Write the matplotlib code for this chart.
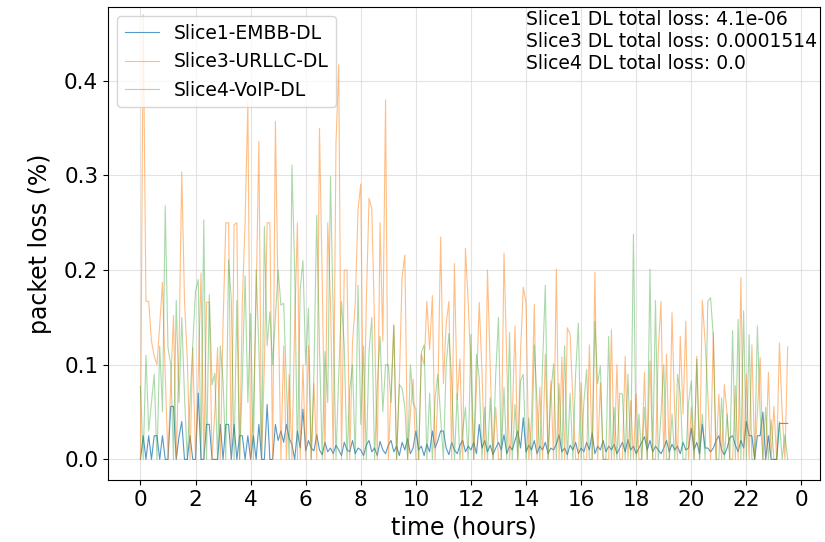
import numpy as np
import matplotlib

matplotlib.use("Agg")
import matplotlib.pyplot as plt

# time axis: one sample every 6 minutes, in hours since start
hours = np.arange(236) * 0.1

# packet loss (%) per slice
slice1_embb = [
    0.0, 0.025, 0.0, 0.025, 0.0, 0.025, 0.025, 0.0, 0.025, 0.0,
    0.0, 0.056, 0.056, 0.0, 0.024, 0.04, 0.0, 0.0, 0.025, 0.0,
    0.0, 0.07, 0.0, 0.0, 0.037, 0.037, 0.0, 0.0, 0.0, 0.037,
    0.0, 0.037, 0.037, 0.0, 0.037, 0.0, 0.025, 0.025, 0.0, 0.025,
    0.0, 0.025, 0.0, 0.037, 0.0, 0.0, 0.058, 0.0, 0.0, 0.037,
    0.02, 0.03, 0.018, 0.037, 0.022, 0.016, 0.0, 0.03, 0.012, 0.053,
    0.009, 0.02, 0.012, 0.009, 0.026, 0.01, 0.005, 0.018, 0.008, 0.012,
    0.006, 0.015, 0.01, 0.004, 0.018, 0.01, 0.008, 0.02, 0.006, 0.012,
    0.01, 0.004, 0.015, 0.02, 0.008, 0.012, 0.004, 0.019, 0.01, 0.006,
    0.015, 0.02, 0.008, 0.014, 0.004, 0.018, 0.01, 0.022, 0.006, 0.012,
    0.03, 0.01, 0.014, 0.004, 0.016, 0.008, 0.03, 0.012, 0.02, 0.03,
    0.03, 0.012, 0.005, 0.018, 0.01, 0.006, 0.015, 0.02, 0.008, 0.014,
    0.01, 0.018, 0.006, 0.037, 0.012, 0.02, 0.008, 0.015, 0.005, 0.012,
    0.018, 0.01, 0.026, 0.006, 0.014, 0.01, 0.02, 0.03, 0.012, 0.044,
    0.008, 0.015, 0.01, 0.02, 0.006, 0.014, 0.01, 0.018, 0.006, 0.012,
    0.01, 0.016, 0.026, 0.008, 0.012, 0.005, 0.015, 0.01, 0.018, 0.006,
    0.012, 0.008, 0.018, 0.01, 0.028, 0.006, 0.014, 0.01, 0.02, 0.008,
    0.014, 0.01, 0.016, 0.006, 0.012, 0.018, 0.008, 0.021, 0.01, 0.014,
    0.006, 0.012, 0.018, 0.024, 0.01, 0.02, 0.008, 0.014, 0.01, 0.006,
    0.012, 0.02, 0.008, 0.016, 0.01, 0.014, 0.006, 0.018, 0.01, 0.012,
    0.033, 0.01, 0.018, 0.006, 0.037, 0.012, 0.012, 0.008, 0.012, 0.02,
    0.025, 0.01, 0.005, 0.012, 0.023, 0.025, 0.015, 0.008, 0.02, 0.012,
    0.04, 0.025, 0.025, 0.0, 0.025, 0.025, 0.05, 0.0, 0.025, 0.0,
    0.0, 0.0, 0.038, 0.038, 0.038, 0.038,
]

slice3_urllc = [
    0.0, 0.47, 0.167, 0.167, 0.125, 0.109, 0.1, 0.142, 0.187, 0.09,
    0.0, 0.08, 0.152, 0.0, 0.114, 0.304, 0.167, 0.107, 0.0, 0.118,
    0.0, 0.09, 0.197, 0.0, 0.166, 0.166, 0.0, 0.05, 0.118, 0.0,
    0.143, 0.25, 0.25, 0.0, 0.248, 0.25, 0.0, 0.167, 0.25, 0.378,
    0.0, 0.05, 0.167, 0.336, 0.0, 0.1, 0.25, 0.25, 0.0, 0.357,
    0.166, 0.0, 0.12, 0.0, 0.09, 0.0, 0.143, 0.25, 0.0, 0.1,
    0.0, 0.12, 0.0, 0.08, 0.0, 0.35, 0.19, 0.0, 0.25, 0.167,
    0.0, 0.334, 0.417, 0.0, 0.2, 0.2, 0.0, 0.124, 0.165, 0.264,
    0.291, 0.0, 0.165, 0.276, 0.265, 0.142, 0.0, 0.25, 0.125, 0.38,
    0.0, 0.072, 0.142, 0.0, 0.082, 0.193, 0.216, 0.0, 0.048, 0.085,
    0.0, 0.0, 0.111, 0.1, 0.167, 0.116, 0.173, 0.0, 0.07, 0.235,
    0.08, 0.143, 0.167, 0.0, 0.207, 0.063, 0.106, 0.0, 0.223, 0.166,
    0.093, 0.0, 0.076, 0.166, 0.093, 0.0, 0.2, 0.097, 0.0, 0.055,
    0.0, 0.0, 0.218, 0.104, 0.0, 0.044, 0.141, 0.0, 0.113, 0.182,
    0.166, 0.0, 0.044, 0.164, 0.0, 0.076, 0.0, 0.111, 0.0, 0.083,
    0.0, 0.201, 0.0, 0.108, 0.0, 0.139, 0.132, 0.062, 0.0, 0.0,
    0.081, 0.0, 0.0, 0.121, 0.0, 0.198, 0.0, 0.081, 0.0, 0.0,
    0.0, 0.137, 0.0, 0.1, 0.0, 0.0, 0.109, 0.0, 0.062, 0.0,
    0.069, 0.0, 0.0, 0.092, 0.0, 0.104, 0.0, 0.0, 0.114, 0.167,
    0.0, 0.111, 0.0, 0.155, 0.048, 0.0, 0.13, 0.048, 0.146, 0.0,
    0.055, 0.0, 0.109, 0.0, 0.168, 0.125, 0.069, 0.0, 0.134, 0.0,
    0.069, 0.0, 0.079, 0.048, 0.0, 0.0, 0.078, 0.0, 0.192, 0.0,
    0.09, 0.0, 0.121, 0.0, 0.048, 0.108, 0.0, 0.0, 0.092, 0.0,
    0.056, 0.0, 0.123, 0.048, 0.0, 0.119,
]

slice4_voip = [
    0.077, 0.0, 0.11, 0.03, 0.06, 0.09, 0.0, 0.12, 0.05, 0.268,
    0.118, 0.1, 0.0, 0.168, 0.06, 0.15, 0.067, 0.0, 0.063, 0.12,
    0.178, 0.19, 0.0, 0.253, 0.0, 0.174, 0.079, 0.091, 0.0, 0.12,
    0.082, 0.0, 0.211, 0.168, 0.0, 0.168, 0.0, 0.084, 0.194, 0.06,
    0.154, 0.0, 0.2, 0.118, 0.0, 0.246, 0.12, 0.156, 0.1, 0.15,
    0.2, 0.163, 0.165, 0.08, 0.0, 0.311, 0.2, 0.0, 0.18, 0.21,
    0.1, 0.16, 0.0, 0.093, 0.258, 0.12, 0.0, 0.114, 0.06, 0.299,
    0.149, 0.0, 0.09, 0.167, 0.12, 0.0, 0.075, 0.1, 0.0, 0.184,
    0.037, 0.12, 0.0, 0.114, 0.15, 0.0, 0.079, 0.13, 0.05, 0.1,
    0.1, 0.06, 0.142, 0.0, 0.079, 0.075, 0.055, 0.0, 0.1, 0.06,
    0.053, 0.0, 0.113, 0.121, 0.0, 0.07, 0.0, 0.065, 0.09, 0.044,
    0.0, 0.1, 0.133, 0.083, 0.0, 0.07, 0.0, 0.03, 0.055, 0.0,
    0.132, 0.0, 0.111, 0.086, 0.0, 0.055, 0.0, 0.065, 0.0, 0.09,
    0.15, 0.0, 0.076, 0.0, 0.134, 0.0, 0.058, 0.0, 0.083, 0.09,
    0.0, 0.044, 0.0, 0.121, 0.06, 0.0, 0.1, 0.184, 0.0, 0.07,
    0.101, 0.0, 0.08, 0.0, 0.12, 0.0, 0.07, 0.0, 0.09, 0.144,
    0.0, 0.06, 0.095, 0.0, 0.0, 0.146, 0.08, 0.099, 0.0, 0.0,
    0.13, 0.0, 0.055, 0.0, 0.07, 0.069, 0.0, 0.09, 0.0, 0.238,
    0.0, 0.048, 0.0, 0.055, 0.0, 0.201, 0.0, 0.168, 0.0, 0.048,
    0.1, 0.0, 0.0, 0.048, 0.0, 0.09, 0.069, 0.0, 0.0, 0.06,
    0.083, 0.0, 0.106, 0.0, 0.048, 0.0, 0.167, 0.171, 0.13, 0.0,
    0.0, 0.065, 0.0, 0.048, 0.0, 0.136, 0.0, 0.148, 0.0, 0.157,
    0.0, 0.132, 0.0, 0.0, 0.141, 0.048, 0.0, 0.055, 0.0, 0.042,
    0.0, 0.0, 0.04, 0.0, 0.026, 0.0,
]

total_loss = {"Slice1": "4.1e-06", "Slice3": "0.0001514", "Slice4": "0.0"}

tick_hours = list(range(0, 25, 2))
tick_labels = [str(h % 24) for h in tick_hours]


def main() -> None:
    fig, ax = plt.subplots(figsize=(8.25, 5.42), dpi=100)
    fig.subplots_adjust(left=0.131, right=0.994, top=0.987, bottom=0.114)

    ax.plot(hours, slice1_embb, color="tab:blue", lw=0.8, alpha=0.75, label="Slice1-EMBB-DL")
    ax.plot(hours, slice3_urllc, color="tab:orange", lw=0.8, alpha=0.5, label="Slice3-URLLC-DL")
    ax.plot(hours, slice4_voip, color="tab:green", lw=0.8, alpha=0.4, label="Slice4-VoIP-DL")

    ax.set_ylim(-0.022, 0.478)
    ax.set_xticks(tick_hours)
    ax.set_xticklabels(tick_labels)
    ax.tick_params(labelsize=15.5)
    ax.grid(True, color="#dddddd", lw=0.8, alpha=0.8)

    ax.set_xlabel("time (hours)", fontsize=17)
    ax.set_ylabel("packet loss (%)", fontsize=17, labelpad=9)

    ax.legend(loc="upper left", fontsize=13.5, handlelength=1.8)

    summary = "\n".join(f"{k} DL total loss: {v}" for k, v in total_loss.items())
    ax.text(0.996, 0.993, summary, transform=ax.transAxes, ha="right", va="top",
            multialignment="left", fontsize=13.5)

    fig.savefig("out.png", dpi=100)
    plt.close(fig)


if __name__ == "__main__":
    main()
